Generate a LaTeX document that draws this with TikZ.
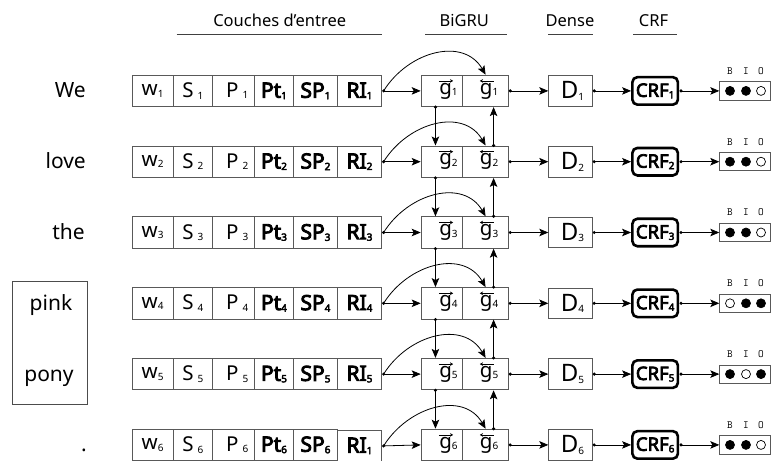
\documentclass[tikz,border=0pt]{standalone}
\usepackage{fontspec}
\setmainfont{Noto Sans}[AutoFakeBold=4]
\usetikzlibrary{arrows.meta}
\newcommand{\subnum}[1]{\raisebox{-1.5pt}{\fontsize{10}{10}\selectfont #1}}
\begin{document}
\begin{tikzpicture}[x=1pt,y=-1pt,
  cell/.style={draw=black!65, line width=0.9pt, minimum height=31.5pt, inner sep=0pt, anchor=west, font=\fontsize{20.5}{20.5}\selectfont},
  bcell/.style={cell, font=\fontsize{21}{21}\selectfont\bfseries},
  dcell/.style={cell, minimum height=30.5pt, font=\fontsize{24}{24}\selectfont},
  crfbox/.style={draw=black, line width=2.6pt, rounded corners=5pt, minimum width=45.5pt, minimum height=27.5pt, inner sep=0pt, font=\fontsize{18.5}{18.5}\selectfont\bfseries},
  biobox/.style={draw=black!65, line width=0.9pt, minimum height=18.3pt, minimum width=50.5pt, inner sep=0pt, anchor=west},
  hdr/.style={font=\fontsize{16.5}{16.5}\selectfont, anchor=base, inner sep=0pt},
  hline/.style={line width=0.9pt, black!75},
  word/.style={font=\fontsize{21}{21}\selectfont, inner sep=0pt},
  biol/.style={font=\fontsize{11}{11}\selectfont\ttfamily, inner sep=0pt},
  arr/.style={-{Stealth[length=9pt,width=7.5pt,inset=2pt]}, line width=0.8pt},
  garr/.style={-{Stealth[length=3.2pt,width=3.6pt]}, line width=0.6pt},
  dotf/.style={fill=black}
]
\useasboundingbox (0,0) rectangle (772,461);

% headers
\node[hdr] (hin) at (279.7,26.5) {Couches d’entree};
\node[hdr] (hgru) at (464.2,26.5) {BiGRU};
\node[hdr] (hden) at (570,26.5) {Dense};
\node[hdr] (hcrf) at (653.5,26.5) {CRF};
\draw[hline] (176.7,34) -- (382.3,34);
\draw[hline] (425,34) -- (506.7,34);
\draw[hline] (548.3,34) -- (592.7,34);
\draw[hline] (633,34) -- (677,34);

% words
\node[word, anchor=base east] (t1) at (86,97.9) {We};
\node[word, anchor=base east] (t2) at (86,168.7) {love};
\node[word, anchor=base east] (t3) at (85,239.5) {the};
\node[word, anchor=base] (t4) at (51,310.3) {pink};
\node[word, anchor=base] (t5) at (49,381.1) {pony};
\node[word, anchor=base] (t6) at (84,451.9) {.};
\node[draw=black!70, line width=0.9pt, minimum width=75pt, minimum height=123.3pt, inner sep=0pt] (grp) at (49.8,342.65) {};

\foreach \i/\y/\r/\ry in {1/90.9/1/0, 2/161.7/2/0, 3/232.5/3/0, 4/303.3/4/0, 5/374.1/5/0, 6/444.9/1/-1} {
  \node[cell, minimum width=41pt] (w\i) at (131.7,\y) {w\subnum{\i}};
  \node[cell, minimum width=39.6pt] (s\i) at (172.7,\y) {S\hspace{4pt}\subnum{\i}\hspace{7pt}};
  \node[cell, minimum width=42pt] (p\i) at (212.3,\y) {\hspace{7pt}P\hspace{4pt}\subnum{\i}};
  \node[bcell, minimum width=38.4pt] (pt\i) at (254.3,\y) {Pt\subnum{\i}};
  \node[bcell, minimum width=44.6pt] (sp\i) at (292.7,\y) {SP\subnum{\i}};
  \node[bcell, minimum width=43.4pt, yshift=\ry pt] (ri\i) at (337.3,\y) {RI\subnum{\r}};
  \node[cell, minimum width=41.6pt] (f\i) at (420.7,\y) {\hspace{13pt}g\subnum{\i}};
  \node[cell, minimum width=45.7pt] (b\i) at (462.3,\y) {\hspace{7pt}g\subnum{\i}};
  \node[dcell, minimum width=43.4pt] (d\i) at (548.3,\y) {\hspace{4pt}D\subnum{\i}};
  \node[crfbox] (c\i) at (655.15,\y) {CRF\subnum{\i}};
  \node[biobox] (o\i) at (719.3,\y) {};
  \node[biol] (lb\i) at (730,\y-20) {B};
  \node[biol] (li\i) at (746,\y-20) {I};
  \node[biol] (lo\i) at (761,\y-20) {O};
  % arrows over g
  \draw[garr] ([xshift=-3.2pt,yshift=10pt]f\i.center) -- ++(14.4,0);
  \draw[garr] ([xshift=8.2pt,yshift=10pt]b\i.center) -- ++(-14,0);
  % dot coordinates
  \coordinate (xr\i) at ([xshift=2pt]ri\i.east);
  \coordinate (xb\i) at ([xshift=1.3pt]b\i.east);
  \coordinate (xd\i) at ([xshift=1.6pt]d\i.east);
  \coordinate (xc\i) at ([xshift=1.8pt]c\i.east);
  \draw[arr] (xr\i) -- (f\i.west);
  \draw[arr] (xb\i) -- (d\i.west);
  \draw[arr] (xd\i) -- (c\i.west);
  \draw[arr] (xc\i) -- (o\i.west);
  \draw[arr] (xr\i) .. controls +(25,-40) and +(-22,-38) .. (b\i.north);
  \fill[dotf] (xr\i) circle (1.7pt);
  \fill[dotf] (xb\i) circle (1.7pt);
  \fill[dotf] (xd\i) circle (1.7pt);
  \fill[dotf] (xc\i) circle (1.7pt);
}

% vertical BiGRU connections
\foreach \i/\j in {1/2,2/3,3/4,4/5,5/6} {
  \coordinate (vf\i) at ([xshift=-6.5pt]f\i.south);
  \coordinate (vb\j) at ([xshift=8pt]b\j.north);
  \draw[arr] (vf\i) -- ([xshift=-6.5pt]f\j.north);
  \draw[arr] (vb\j) -- ([xshift=8pt]b\i.south);
  \fill[dotf] (vf\i) circle (1.7pt);
  \fill[dotf] (vb\j) circle (1.7pt);
}

% BIO circles
\foreach \i/\y/\a/\b/\c in {1/90.9/black/black/white, 2/161.7/black/black/white, 3/232.5/black/black/white, 4/303.3/white/black/black, 5/374.1/black/white/black, 6/444.9/black/black/white} {
  \filldraw[fill=\a, draw=black, line width=0.7pt] (730,\y) circle (4.5pt);
  \filldraw[fill=\b, draw=black, line width=0.7pt] (746,\y) circle (4.5pt);
  \filldraw[fill=\c, draw=black, line width=0.7pt] (761,\y) circle (4.5pt);
}
\end{tikzpicture}
\end{document}
